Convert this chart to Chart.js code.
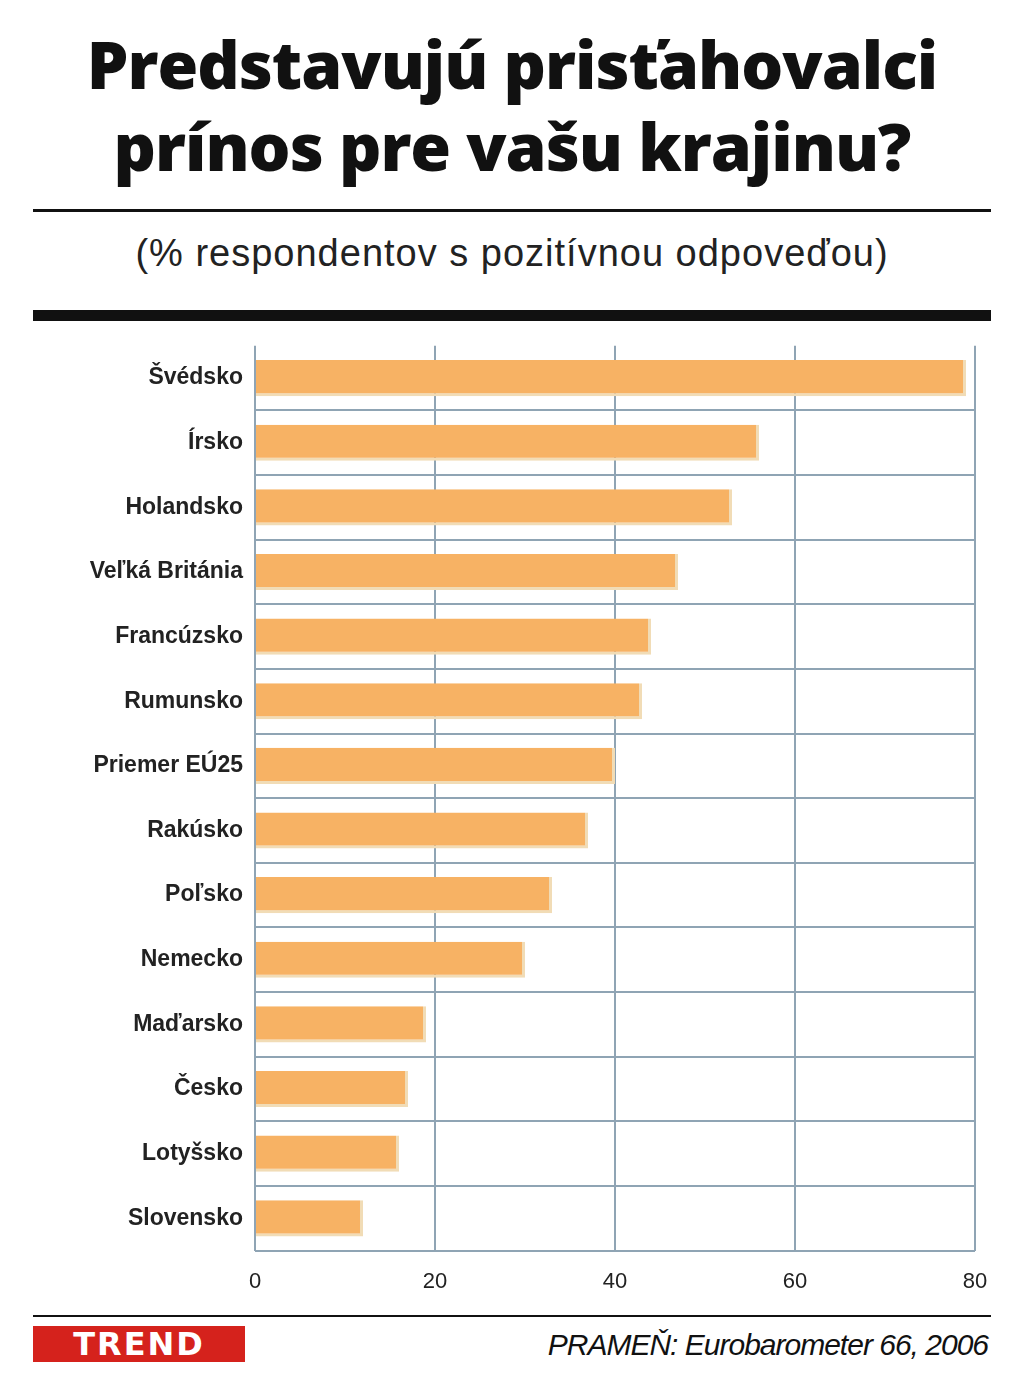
<!DOCTYPE html>
<html><head><meta charset="utf-8">
<script src="https://cdn.jsdelivr.net/npm/chart.js@4"></script>
<style>
body{margin:0;width:1024px;height:1398px;background:#fff;font-family:"Liberation Sans",Arial,sans-serif;position:relative;overflow:hidden}
#t{position:absolute;top:22px;left:0;width:1024px;text-align:center;font-family:"Open Sans","DejaVu Sans",sans-serif;font-weight:800;font-size:66px;line-height:82px;color:#111;letter-spacing:-1px}
.rule{position:absolute;left:33px;width:958px;background:#111}
#s{position:absolute;top:232px;left:0;width:1024px;text-align:center;font-size:38px;color:#222;letter-spacing:1px}
#c{position:absolute;top:320px;left:0}
#logo{position:absolute;left:33px;top:1326px;width:212px;height:36px;background:#d5221c;color:#fff;font-weight:900;font-size:32px;line-height:36px;text-align:center;letter-spacing:2px;font-family:"DejaVu Sans",sans-serif}
#src{position:absolute;right:36px;top:1328px;font-style:italic;font-size:30px;color:#111;letter-spacing:-1px;font-family:"Liberation Sans Narrow","Liberation Sans",sans-serif}
</style></head><body>
<div id="t">Predstavujú prisťahovalci<br>prínos pre vašu krajinu?</div>
<div class="rule" style="top:209px;height:3px"></div>
<div id="s">(% respondentov s pozitívnou odpoveďou)</div>
<div class="rule" style="top:310px;height:11px"></div>
<canvas id="c" width="1024" height="993"></canvas>
<div class="rule" style="top:1315px;height:2px"></div>
<div id="logo">TREND</div>
<div id="src">PRAMEŇ: Eurobarometer 66, 2006</div>
<script>
const categories=["Švédsko","Írsko","Holandsko","Veľká Británia","Francúzsko","Rumunsko","Priemer EÚ25","Rakúsko","Poľsko","Nemecko","Maďarsko","Česko","Lotyšsko","Slovensko"];
const values=[79,56,53,47,44,43,40,37,33,30,19,17,16,12];
const xTicks=[0,20,40,60,80];
new Chart(document.getElementById('c'),{
type:'bar',
data:{labels:categories,datasets:[{data:values,backgroundColor:'#f7b264',borderColor:'#f1dcb6',borderWidth:{right:3,bottom:3,top:0,left:0},borderSkipped:false,barPercentage:0.56,categoryPercentage:1}]},
options:{indexAxis:'y',responsive:false,animation:false,
layout:{padding:{left:0,right:49,top:2,bottom:0}},
plugins:{legend:{display:false},tooltip:{enabled:false}},
scales:{
x:{min:0,max:80,afterBuildTicks:s=>{s.ticks=xTicks.map(v=>({value:v}))},
grid:{color:'#8fa4b4',lineWidth:2,drawTicks:false},border:{display:false},
ticks:{color:'#222',font:{size:22,family:'Liberation Sans'},padding:18}},
y:{afterFit:s=>{s.width=255},grid:{offset:true,color:c=>(c.index===0||c.index===categories.length)?'rgba(0,0,0,0)':'#8fa4b4',lineWidth:2,drawTicks:false},border:{display:false},
ticks:{color:'#222',font:{size:23,weight:'bold',family:'Liberation Sans'},padding:12}}
}}});
</script>
</body></html>
